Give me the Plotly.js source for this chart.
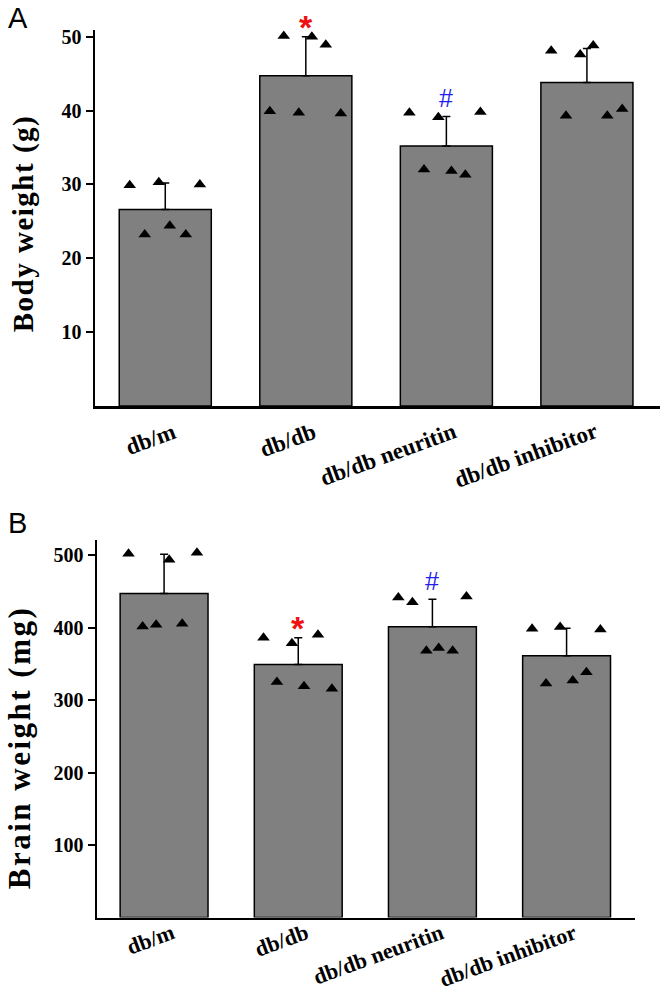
<!DOCTYPE html>
<html>
<head>
<meta charset="utf-8">
<script src="https://cdn.plot.ly/plotly-3.0.1.min.js"></script>
<style>
  html, body { margin: 0; padding: 0; background: #fff; }
  #chart { width: 661px; height: 995px; }
</style>
</head>
<body>
<div id="chart"></div>
<script>
// ---------------- data ----------------
const categories = ["db/m", "db/db", "db/db neuritin", "db/db inhibitor"];

// Panel A: body weight (g)
const bodyMean = [26.6, 44.7, 35.2, 43.8];
const bodySem  = [3.6, 5.3, 4.0, 4.6];
const bodyPoints = [
  [29.9, 30.3, 30.0, 23.2, 24.4, 23.2],
  [50.1, 50.0, 48.9, 39.9, 39.7, 39.6],
  [39.7, 39.1, 39.8, 32.0, 31.8, 31.3],
  [48.1, 47.6, 48.8, 39.3, 39.3, 40.2]
];
const bodySig = ["", "*", "#", ""];

// Panel B: brain weight (mg)
const brainMean = [447, 349, 401, 361];
const brainSem  = [54, 37, 38, 38];
const brainPoints = [
  [501.8, 493.5, 503.0, 401.5, 403.8, 405.2],
  [386.0, 378.2, 390.0, 325.0, 319.0, 315.5],
  [441.4, 435.0, 442.8, 368.0, 371.8, 368.0],
  [398.4, 400.7, 397.4, 322.8, 327.0, 338.3]
];
const brainSig = ["", "*", "#", ""];

// horizontal scatter of the individual points within each bar (category units)
const bodyJitter = [
  [-0.253, -0.046, 0.246, -0.146, 0.032, 0.146],
  [-0.157, 0.043, 0.142, -0.256, -0.050, 0.249],
  [-0.263, -0.057, 0.242, -0.159, 0.036, 0.135],
  [-0.254, -0.048, 0.045, -0.149, 0.145, 0.251]
];
const brainJitter = [
  [-0.265, 0.038, 0.245, -0.160, -0.059, 0.135],
  [-0.259, -0.047, 0.147, -0.159, 0.043, 0.251],
  [-0.254, -0.149, 0.254, -0.045, 0.047, 0.151],
  [-0.257, -0.048, 0.252, -0.153, 0.046, 0.148]
];

// ---------------- build ----------------
const W = 661, H = 995;
const catIdx = categories.map((c, i) => i);
const SERIF = "Liberation Serif, Times New Roman, serif";
const SANS = "Liberation Sans, Arial, sans-serif";

function barTrace(mean, sem, xa, ya) {
  return {
    type: "bar", x: catIdx, y: mean, xaxis: xa, yaxis: ya,
    width: 0.655,
    marker: { color: "#808080", line: { color: "#000", width: 1.5 } },
    error_y: { type: "data", symmetric: false, array: sem,
               arrayminus: sem.map(() => 0),
               color: "#000", thickness: 1.5, width: 4 },
    hoverinfo: "skip"
  };
}
function pointTrace(points, jitter, xa, ya) {
  const xs = [], ys = [];
  points.forEach((g, i) => g.forEach((v, j) => { xs.push(i + jitter[i][j]); ys.push(v); }));
  return {
    type: "scatter", mode: "markers", x: xs, y: ys, xaxis: xa, yaxis: ya,
    marker: { symbol: "triangle-up", size: 11, color: "#000" },
    cliponaxis: false, hoverinfo: "skip"
  };
}

const data = [
  barTrace(bodyMean, bodySem, "x", "y"),
  pointTrace(bodyPoints, bodyJitter, "x", "y"),
  barTrace(brainMean, brainSem, "x2", "y2"),
  pointTrace(brainPoints, brainJitter, "x2", "y2")
];

const baseX = {
  showline: true, linewidth: 2.5, linecolor: "#000",
  showticklabels: false, ticks: "", showgrid: false, zeroline: false, fixedrange: true
};
const baseY = {
  showline: true, linewidth: 2.5, linecolor: "#000",
  ticks: "outside", ticklen: 7, tickwidth: 2, tickcolor: "#000",
  showgrid: false, zeroline: false, fixedrange: true,
  tickfont: { family: SERIF, size: 20, color: "#000", weight: "bold" }
};

const annotations = [];
function xLabels(xref, yref, yshift, size) {
  categories.forEach((c, i) => annotations.push({
    xref: xref, yref: yref, x: i, y: 0, text: c, showarrow: false,
    textangle: -20, xanchor: "right", yanchor: "top", xshift: 16, yshift: yshift,
    font: { family: SERIF, size: size, color: "#000", weight: "bold" }
  }));
}
function sigMarks(sig, mean, sem, xref, yref) {
  sig.forEach((s, i) => {
    if (!s) return;
    const isStar = s === "*";
    annotations.push({
      xref: xref, yref: yref, x: i, y: mean[i] + sem[i], text: s, showarrow: false,
      xanchor: "center", yanchor: "bottom", yshift: isStar ? -11 : 2,
      font: isStar ? { family: SANS, size: 34, color: "#ee1111", weight: "bold" }
                   : { family: SANS, size: 25, color: "#1f1fee" }
    });
  });
}
xLabels("x", "y", -10, 23);
xLabels("x2", "y2", 1, 22);
sigMarks(bodySig, bodyMean, bodySem, "x", "y");
sigMarks(brainSig, brainMean, brainSem, "x2", "y2");

// panel letters and y titles
annotations.push({ xref: "paper", yref: "paper", x: 18 / W, y: 1 - 18 / H, text: "A",
  showarrow: false, xanchor: "center", yanchor: "middle",
  font: { family: SANS, size: 29, color: "#000" } });
annotations.push({ xref: "paper", yref: "paper", x: 17 / W, y: 1 - 523 / H, text: "B",
  showarrow: false, xanchor: "center", yanchor: "middle",
  font: { family: SANS, size: 29, color: "#000" } });
annotations.push({ xref: "paper", yref: "paper", x: 24 / W, y: 1 - 224 / H, text: "Body weight (g)",
  showarrow: false, textangle: -90, xanchor: "center", yanchor: "middle",
  font: { family: SERIF, size: 29, color: "#000", weight: "bold" } });
annotations.push({ xref: "paper", yref: "paper", x: 19 / W, y: 1 - 748 / H, text: "Brain weight (mg)",
  showarrow: false, textangle: -90, xanchor: "center", yanchor: "middle",
  font: { family: SERIF, size: 31, color: "#000", weight: "bold" } });

const layout = {
  width: W, height: H,
  margin: { l: 0, r: 0, t: 0, b: 0 },
  paper_bgcolor: "#fff", plot_bgcolor: "#fff",
  showlegend: false,
  xaxis: Object.assign({}, baseX, { domain: [95 / W, 660 / W], anchor: "y", range: [-0.5, 3.52] }),
  yaxis: Object.assign({}, baseY, { domain: [1 - 406 / H, 1 - 30 / H], anchor: "x",
    range: [0, 50.9], tickvals: [10, 20, 30, 40, 50] }),
  xaxis2: Object.assign({}, baseX, { domain: [97 / W, 635 / W], anchor: "y2", range: [-0.5, 3.51] }),
  yaxis2: Object.assign({}, baseY, { domain: [1 - 917.5 / H, 1 - 540 / H], anchor: "x2",
    range: [0, 520.7], tickvals: [100, 200, 300, 400, 500] }),
  annotations: annotations
};

Plotly.newPlot("chart", data, layout, { staticPlot: true, displayModeBar: false }).then(() => {
  document.querySelectorAll(".annotation-text").forEach(t => {
    const s = t.textContent;
    if (s.indexOf("Body") === 0) t.style.letterSpacing = "1.5px";
    if (s.indexOf("Brain") === 0) t.style.letterSpacing = "2.5px";
  });
});
</script>
</body>
</html>
